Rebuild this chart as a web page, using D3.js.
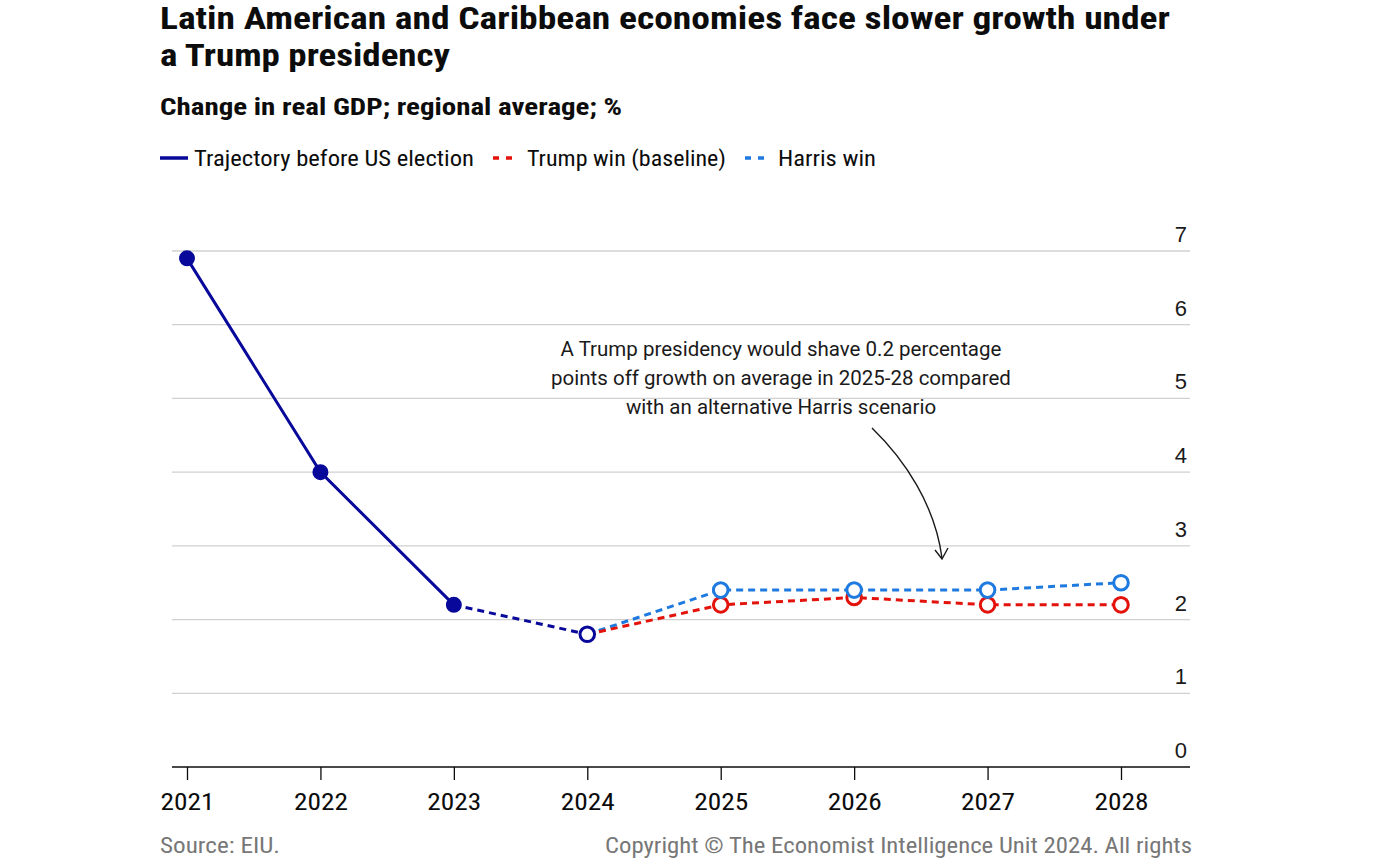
<!DOCTYPE html>
<html><head><meta charset="utf-8">
<script src="https://cdn.jsdelivr.net/npm/d3@7"></script>
<style>
body{margin:0;background:#fff;}
svg{display:block;}
.cond{font-family:"Liberation Sans Narrow","Roboto Condensed",Roboto,sans-serif;}
</style></head>
<body><svg id="c" width="1394" height="862"></svg>
<script>
const years = [2021, 2022, 2023, 2024, 2025, 2026, 2027, 2028];
const trajectoryYears = [2021, 2022, 2023, 2024];
const trajectoryValues = [6.9, 4.0, 2.2, 1.8];
const trumpYears = [2024, 2025, 2026, 2027, 2028];
const trumpValues = [1.8, 2.2, 2.3, 2.2, 2.2];
const harrisYears = [2024, 2025, 2026, 2027, 2028];
const harrisValues = [1.8, 2.4, 2.4, 2.4, 2.5];
const yTicks = [0, 1, 2, 3, 4, 5, 6, 7];

const navy = "#08089a", red = "#e3120b", blue = "#1f7ae0";
const svg = d3.select("#c");
const x = d3.scalePoint().domain(years).range([187, 1121]);
const y = d3.scaleLinear().domain([0, 7]).range([767, 251]);

function fit(sel, w){ sel.attr("textLength", w).attr("lengthAdjust","spacingAndGlyphs"); return sel; }

// Titles
fit(svg.append("text").attr("class","cond").attr("font-weight","bold").attr("font-size",32).attr("fill","#0c0c0c")
  .attr("x",160).attr("y",29).text("Latin American and Caribbean economies face slower growth under"), 1010);
fit(svg.append("text").attr("class","cond").attr("font-weight","bold").attr("font-size",32).attr("fill","#0c0c0c")
  .attr("x",160).attr("y",66).text("a Trump presidency"), 290);
fit(svg.append("text").attr("class","cond").attr("font-weight","bold").attr("font-size",23).attr("x",160).attr("y",115).attr("fill","#0c0c0c")
  .text("Change in real GDP; regional average; %"), 462);

// Legend
const lg = svg.append("g").attr("class","cond").attr("font-size",22).attr("fill","#0c0c0c");
lg.append("line").attr("x1",160).attr("x2",188).attr("y1",158).attr("y2",158).attr("stroke",navy).attr("stroke-width",3.5);
fit(lg.append("text").attr("x",194).attr("y",166).text("Trajectory before US election"), 280);
lg.append("line").attr("x1",493).attr("x2",517).attr("y1",158).attr("y2",158).attr("stroke",red).attr("stroke-width",3.5).attr("stroke-dasharray","6,7");
fit(lg.append("text").attr("x",527).attr("y",166).text("Trump win (baseline)"), 199);
lg.append("line").attr("x1",745).attr("x2",769).attr("y1",158).attr("y2",158).attr("stroke",blue).attr("stroke-width",3.5).attr("stroke-dasharray","6,7");
fit(lg.append("text").attr("x",778).attr("y",166).text("Harris win"), 98);

// Grid
const grid = svg.append("g");
grid.selectAll("line").data(yTicks.filter(d=>d>0)).join("line")
  .attr("x1",172).attr("x2",1190).attr("y1",d=>y(d)).attr("y2",d=>y(d))
  .attr("stroke","#d0d0d0").attr("stroke-width",1.3);
grid.selectAll("text").data(yTicks).join("text")
  .attr("x",1187).attr("y",d=>y(d)-9).attr("text-anchor","end")
  .attr("font-family","Liberation Sans, Arial, sans-serif").attr("font-size",22).attr("fill","#1a1a1a")
  .text(d=>d);

// X axis
const xa = svg.append("g").attr("transform","translate(0,767)")
  .call(d3.axisBottom(x).tickSize(13).tickPadding(9).tickFormat(d3.format("d")));
xa.select(".domain").remove();
xa.insert("line",":first-child").attr("x1",172).attr("x2",1190).attr("stroke","#0c0c0c").attr("stroke-width",1.6);
xa.selectAll(".tick line").attr("stroke","#0c0c0c").attr("stroke-width",1.3);
xa.selectAll(".tick text").attr("class","cond").attr("font-size",23).attr("fill","#0c0c0c").attr("dy","0.9em")
  .attr("textLength",54).attr("lengthAdjust","spacingAndGlyphs");

// Annotation
const an = svg.append("text").attr("font-family","Roboto, sans-serif").attr("font-size",20.5).attr("fill","#1a1a1a").attr("text-anchor","middle");
["A Trump presidency would shave 0.2 percentage","points off growth on average in 2025-28 compared","with an alternative Harris scenario"]
  .forEach((s,i)=>an.append("tspan").attr("x",781).attr("y",356+i*29).text(s));
svg.append("path").attr("d","M872,428 C905,460 935,505 942,558").attr("fill","none").attr("stroke","#1a1a1a").attr("stroke-width",1.4);
svg.append("path").attr("d","M935,550 L942,559 L948,548").attr("fill","none").attr("stroke","#1a1a1a").attr("stroke-width",1.4);

// Lines
const line = d3.line().x(d=>x(d[0])).y(d=>y(d[1]));
const traj = trajectoryYears.map((d,i)=>[d, trajectoryValues[i]]);
const trump = trumpYears.map((d,i)=>[d, trumpValues[i]]);
const harris = harrisYears.map((d,i)=>[d, harrisValues[i]]);
svg.append("path").attr("d",line(harris)).attr("fill","none").attr("stroke",blue).attr("stroke-width",3).attr("stroke-dasharray","7,5");
svg.append("path").attr("d",line(trump)).attr("fill","none").attr("stroke",red).attr("stroke-width",3).attr("stroke-dasharray","7,5");
svg.append("path").attr("d",line(traj.slice(0,3))).attr("fill","none").attr("stroke",navy).attr("stroke-width",3);
svg.append("path").attr("d",line(traj.slice(2))).attr("fill","none").attr("stroke",navy).attr("stroke-width",3).attr("stroke-dasharray","7,5");

// Markers
svg.selectAll(".th").data(trump.slice(1)).join("circle").attr("cx",d=>x(d[0])).attr("cy",d=>y(d[1])).attr("r",7.3)
  .attr("fill","#fff").attr("stroke",red).attr("stroke-width",3);
svg.selectAll(".hh").data(harris.slice(1)).join("circle").attr("cx",d=>x(d[0])).attr("cy",d=>y(d[1])).attr("r",7.3)
  .attr("fill","#fff").attr("stroke",blue).attr("stroke-width",3);
svg.selectAll(".tr").data(traj).join("circle").attr("cx",d=>x(d[0])).attr("cy",d=>y(d[1])).attr("r",(d,i)=>i<3?6.5:7.3)
  .attr("fill",(d,i)=>i<3?navy:"#fff").attr("stroke",navy).attr("stroke-width",3);

// Footer
fit(svg.append("text").attr("class","cond").attr("font-size",22).attr("fill","#777").attr("x",160).attr("y",853).text("Source: EIU."), 120);
fit(svg.append("text").attr("class","cond").attr("font-size",22).attr("fill","#777").attr("x",605).attr("y",853)
  .text("Copyright © The Economist Intelligence Unit 2024. All rights"), 587);
</script></body></html>
